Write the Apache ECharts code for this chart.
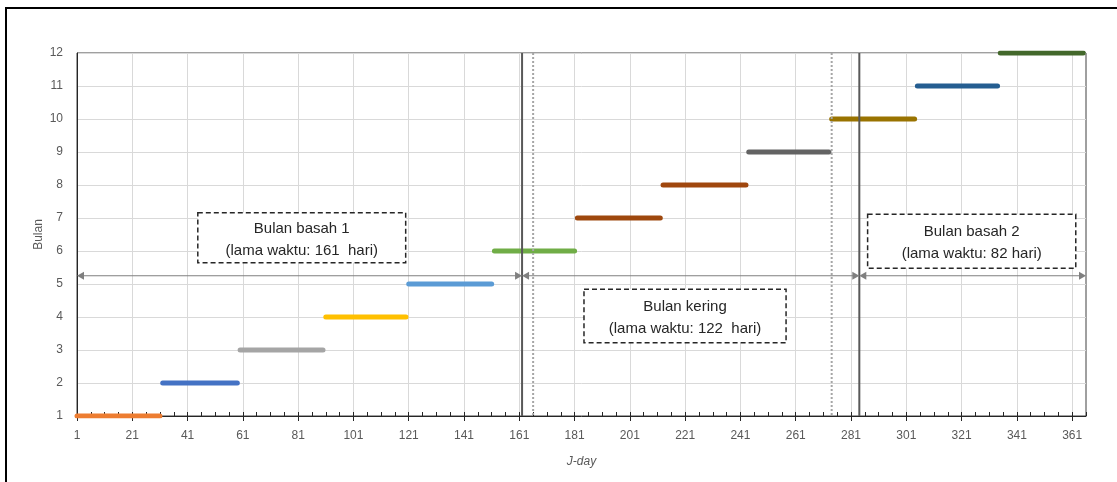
<!DOCTYPE html>
<html>
<head>
<meta charset="utf-8">
<script src="https://cdn.jsdelivr.net/npm/echarts@6/dist/echarts.min.js"></script>
<style>
html,body{margin:0;padding:0;background:#fff;}
#c{width:1117px;height:482px;}
</style>
</head>
<body>
<div id="c"></div>
<script>
// ---------- data ----------
const months = [1, 2, 3, 4, 5, 6, 7, 8, 9, 10, 11, 12];
const monthStartDay = [1, 32, 60, 91, 121, 152, 182, 213, 244, 274, 305, 335];
const monthEndDay = [31, 59, 90, 120, 151, 181, 212, 243, 273, 304, 334, 365];
const xTickLabels = [1, 21, 41, 61, 81, 101, 121, 141, 161, 181, 201, 221, 241, 261, 281, 301, 321, 341, 361];
const yTickLabels = [1, 2, 3, 4, 5, 6, 7, 8, 9, 10, 11, 12];
const solidLineDays = [162, 284];
const dottedLineDays = [166, 274];
const periodNames = ['Bulan basah 1', 'Bulan kering', 'Bulan basah 2'];
const periodDays = [161, 122, 82];
const periodStartDay = [1, 162, 284];
const periodEndDay = [162, 284, 366];
const periodArrowLevel = 5.25;
const periodDetailText = ['(lama waktu: 161  hari)', '(lama waktu: 122  hari)', '(lama waktu: 82 hari)'];

// ---------- styles / annotation layout ----------
const monthColors = ['#ED7D31', '#4472C4', '#A5A5A5', '#FFC000', '#5B9BD5', '#70AD47',
                     '#9E480E', '#A0470E', '#636363', '#997300', '#255E91', '#43682B'];
// annotation boxes in axis units: [x-left day, x-right day, y-top, y-bottom]
const boxLayout = [
  [44.7, 119.9, 7.16, 5.645],
  [184.4, 257.5, 4.84, 3.22],
  [287.0, 362.3, 7.11, 5.48]
];

const off = d => d - 1; // axis runs from J-day 1 (value 0)
const FONT = '"Liberation Sans", Arial, sans-serif';

const chart = echarts.init(document.getElementById('c'), null, {renderer: 'canvas'});

const monthSeries = months.map((m, i) => ({
  type: 'line',
  name: 'Bulan ' + m,
  xAxisIndex: 0,
  yAxisIndex: 0,
  data: [[off(monthStartDay[i]), m], [off(monthEndDay[i]), m]],
  symbol: 'none',
  silent: true,
  lineStyle: {color: monthColors[i], width: 5, cap: 'round'},
  itemStyle: {color: monthColors[i]},
  z: 3
}));

const vLineData = solidLineDays.map(d => [off(d), 0]).concat(dottedLineDays.map(d => [off(d), 1]));

const option = {
  animation: false,
  backgroundColor: '#fff',
  graphic: [{
    type: 'polyline',
    shape: {points: [[6, 482], [6, 8], [1117, 8]]},
    style: {stroke: '#000', lineWidth: 2, fill: null},
    silent: true
  }],
  grid: {left: 77, right: 31, top: 53, bottom: 66, show: true, borderColor: '#404040', borderWidth: 1,
         containLabel: false, outerBoundsMode: 'none'},
  xAxis: [{
    type: 'value', min: 0, max: 365, interval: 20, position: 'bottom',
    name: 'J-day', nameLocation: 'middle', nameGap: 40,
    nameTextStyle: {color: '#595959', fontSize: 12, fontStyle: 'italic', fontFamily: FONT},
    axisLine: {show: true, onZero: false, lineStyle: {color: '#262626', width: 1}},
    axisTick: {show: true, inside: false, length: 5, lineStyle: {color: '#262626'},
               customValues: xTickLabels.map(off)},
    axisLabel: {color: '#595959', fontSize: 12, fontFamily: FONT, margin: 14,
                customValues: xTickLabels.map(off),
                formatter: v => String(Math.round(v) + 1)},
    splitLine: {show: true, lineStyle: {color: '#D9D9D9', width: 1}}
  }, {
    type: 'value', min: 0, max: 365, interval: 5, position: 'bottom', offset: 0,
    axisLine: {show: false},
    axisTick: {show: true, inside: true, length: 4, lineStyle: {color: '#262626'}},
    axisLabel: {show: false},
    splitLine: {show: false}
  }],
  yAxis: {
    type: 'value', min: 1, max: 12, interval: 1,
    name: 'Bulan', nameLocation: 'middle', nameGap: 32, nameMoveOverlap: false,
    nameTextStyle: {color: '#595959', fontSize: 12, fontFamily: FONT},
    axisLine: {show: true, onZero: false, lineStyle: {color: '#262626', width: 1}},
    axisTick: {show: false},
    axisLabel: {color: '#595959', fontSize: 12, fontFamily: FONT, margin: 14,
                formatter: v => String(yTickLabels[Math.round(v) - 1])},
    splitLine: {show: true, lineStyle: {color: '#D9D9D9', width: 1}}
  },
  series: monthSeries.concat([
    {
      type: 'custom', name: 'vlines', xAxisIndex: 0, yAxisIndex: 0, silent: true, z: 4,
      data: vLineData,
      renderItem: function (params, api) {
        const x = api.coord([api.value(0), 1])[0];
        const cs = params.coordSys;
        const dotted = api.value(1) === 1;
        return {
          type: 'line',
          shape: {x1: x, y1: cs.y, x2: x, y2: cs.y + cs.height},
          style: dotted
            ? {stroke: '#A6A6A6', lineWidth: 2, lineDash: [2, 2]}
            : {stroke: '#595959', lineWidth: 2}
        };
      }
    },
    {
      type: 'custom', name: 'periods', xAxisIndex: 0, yAxisIndex: 0, silent: true, z: 5, clip: false,
      data: periodStartDay.map((s, i) => [off(s), off(periodEndDay[i]), periodArrowLevel]),
      renderItem: function (params, api) {
        const p1 = api.coord([api.value(0), api.value(2)]);
        const p2 = api.coord([api.value(1), api.value(2)]);
        const L = 7, W = 4;
        return {
          type: 'group',
          children: [
            {type: 'line', shape: {x1: p1[0] + 3, y1: p1[1], x2: p2[0] - 3, y2: p2[1]},
             style: {stroke: '#7F7F7F', lineWidth: 1}},
            {type: 'polygon', shape: {points: [[p1[0], p1[1]], [p1[0] + L, p1[1] - W], [p1[0] + L, p1[1] + W]]},
             style: {fill: '#7F7F7F'}},
            {type: 'polygon', shape: {points: [[p2[0], p2[1]], [p2[0] - L, p2[1] - W], [p2[0] - L, p2[1] + W]]},
             style: {fill: '#7F7F7F'}}
          ]
        };
      }
    },
    {
      type: 'custom', name: 'boxes', xAxisIndex: 0, yAxisIndex: 0, silent: true, z: 6, clip: false,
      data: boxLayout.map((b, i) => [off(b[0]), off(b[1]), b[2], b[3], i]),
      renderItem: function (params, api) {
        const a = api.coord([api.value(0), api.value(2)]);
        const b = api.coord([api.value(1), api.value(3)]);
        const i = api.value(4);
        const cx = (a[0] + b[0]) / 2;
        const cy = (a[1] + b[1]) / 2 + 2;
        return {
          type: 'group',
          children: [
            {type: 'rect', shape: {x: a[0], y: a[1], width: b[0] - a[0], height: b[1] - a[1]},
             style: {fill: '#fff', stroke: '#262626', lineWidth: 1.5, lineDash: [5, 3]}},
            {type: 'text', style: {text: periodNames[i], x: cx, y: cy - 11, align: 'center', verticalAlign: 'middle',
              font: '15px ' + FONT, fill: '#262626'}},
            {type: 'text', style: {text: periodDetailText[i], x: cx, y: cy + 11, align: 'center', verticalAlign: 'middle',
              font: '15px ' + FONT, fill: '#262626'}}
          ]
        };
      }
    }
  ])
};

chart.setOption(option);
</script>
</body>
</html>
